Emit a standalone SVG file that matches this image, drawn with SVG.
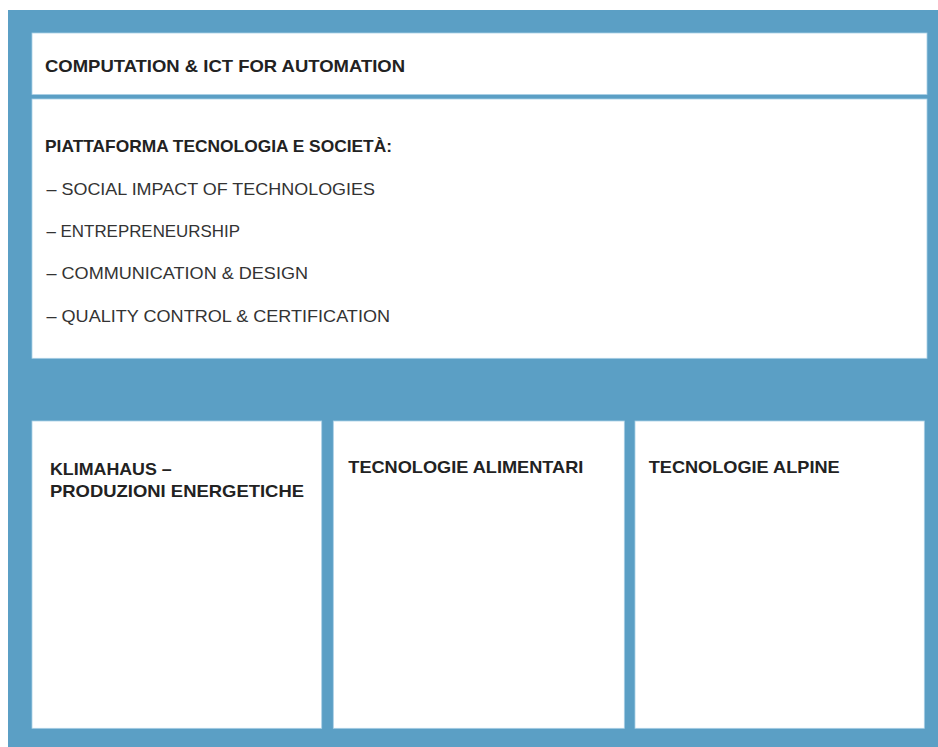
<svg xmlns="http://www.w3.org/2000/svg" width="938" height="747" viewBox="0 0 938 747">
<style>
.box{fill:#ffffff;stroke:#a9cfe5;stroke-width:0.8}
.t{font-family:"Liberation Sans",Arial,sans-serif;font-size:17px;fill:#222222}
.b{font-weight:bold}
.l{font-weight:normal;fill:#333333}
</style>
<rect x="0" y="0" width="938" height="747" fill="#ffffff"/>
<rect x="8" y="10" width="930" height="737" fill="#5b9fc5"/>
<g id="computation">
<rect class="box" x="32" y="33" width="895" height="61.5"/>
<text class="t b" x="45" y="71.5" textLength="360" lengthAdjust="spacingAndGlyphs">COMPUTATION &amp; ICT FOR AUTOMATION</text>
</g>
<g id="piattaforma">
<rect class="box" x="32" y="99" width="895" height="259.3"/>
<text class="t b" x="45" y="151.5" textLength="347" lengthAdjust="spacingAndGlyphs">PIATTAFORMA TECNOLOGIA E SOCIETÀ:</text>
<text class="t l" x="46.5" y="194.5" textLength="328.5" lengthAdjust="spacingAndGlyphs">– SOCIAL IMPACT OF TECHNOLOGIES</text>
<text class="t l" x="46.5" y="237" textLength="193.5" lengthAdjust="spacingAndGlyphs">– ENTREPRENEURSHIP</text>
<text class="t l" x="46.5" y="279.3" textLength="261.5" lengthAdjust="spacingAndGlyphs">– COMMUNICATION &amp; DESIGN</text>
<text class="t l" x="46.5" y="321.7" textLength="343.5" lengthAdjust="spacingAndGlyphs">– QUALITY CONTROL &amp; CERTIFICATION</text>
</g>
<g id="klimahaus">
<rect class="box" x="32" y="421" width="289.7" height="307.3"/>
<text class="t b" x="50" y="474.5" textLength="121.7" lengthAdjust="spacingAndGlyphs">KLIMAHAUS –</text>
<text class="t b" x="50" y="496.5" textLength="254" lengthAdjust="spacingAndGlyphs">PRODUZIONI ENERGETICHE</text>
</g>
<g id="alimentari">
<rect class="box" x="333.3" y="421" width="291" height="307.3"/>
<text class="t b" x="348.3" y="473" textLength="235" lengthAdjust="spacingAndGlyphs">TECNOLOGIE ALIMENTARI</text>
</g>
<g id="alpine">
<rect class="box" x="635" y="421" width="289.3" height="307.3"/>
<text class="t b" x="648.7" y="473" textLength="191" lengthAdjust="spacingAndGlyphs">TECNOLOGIE ALPINE</text>
</g>
<g id="connectors"/>
</svg>
